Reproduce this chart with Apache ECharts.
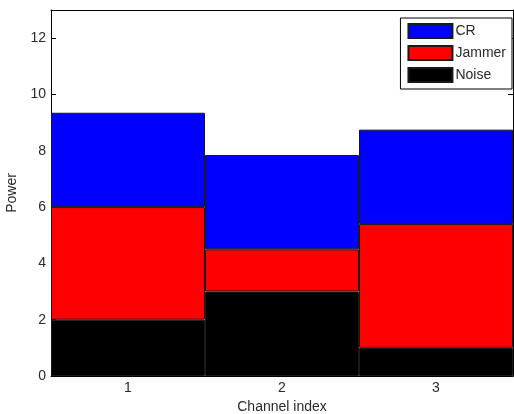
<!DOCTYPE html>
<html><head><meta charset="utf-8">
<script src="https://cdn.jsdelivr.net/npm/echarts@6/dist/echarts.min.js"></script>
<style>html,body{margin:0;padding:0;background:#fff}#c{width:514px;height:414px}</style>
</head><body><div id="c"></div>
<script>
const categories = ['1', '2', '3'];
const noise = [2, 3, 1];
const jammer = [4, 1.5, 4.4];
const cr = [3.35, 3.35, 3.35];
const yTicks = [0, 2, 4, 6, 8, 10, 12];

const font = 'Liberation Sans, Arial, sans-serif';
const txt = '#2a2a2a';
const chart = echarts.init(document.getElementById('c'), null, {renderer: 'canvas'});
const lineStyle = {color: '#000', width: 1};
function bar(name, data, color) {
  return {name, type: 'bar', stack: 'p', data, barWidth: '100%', barGap: '0%',
    itemStyle: {color, borderColor: '#1a1a1a', borderWidth: 1}, xAxisIndex: 0, yAxisIndex: 0};
}
chart.setOption({
  animation: false,
  grid: {left: 51, right: 1, top: 10, bottom: 38, outerBoundsMode: 'none', containLabel: false},
  legend: {
    data: ['CR', 'Jammer', 'Noise'], orient: 'vertical', right: 2, top: 18,
    itemWidth: 44, itemHeight: 14, itemGap: 6, icon: 'rect',
    borderColor: '#000', borderWidth: 1, backgroundColor: '#fff', padding: [5, 6, 6, 7],
    textStyle: {fontFamily: font, fontSize: 14, color: txt, padding: [0, 0, 0, -2]}
  },
  xAxis: [{
    type: 'category', data: categories, boundaryGap: true, position: 'bottom',
    name: 'Channel index', nameLocation: 'middle', nameGap: 22,
    nameTextStyle: {fontFamily: font, fontSize: 14, color: txt},
    axisLine: {onZero: false, lineStyle}, axisTick: {inside: true, alignWithLabel: true, length: 5, lineStyle},
    axisLabel: {fontFamily: font, fontSize: 14, color: txt, margin: 5}, splitLine: {show: false}
  }, {
    type: 'category', data: categories, boundaryGap: true, position: 'top',
    axisLine: {onZero: false, lineStyle}, axisTick: {inside: true, alignWithLabel: true, length: 5, lineStyle},
    axisLabel: {show: false}, splitLine: {show: false}
  }],
  yAxis: [{
    type: 'value', min: 0, max: 13, interval: 2, position: 'left',
    name: 'Power', nameLocation: 'middle', nameGap: 25,
    nameTextStyle: {fontFamily: font, fontSize: 14, color: txt},
    axisLine: {show: true, onZero: false, lineStyle}, axisTick: {show: true, inside: true, length: 5, lineStyle},
    axisLabel: {fontFamily: font, fontSize: 14, color: txt, margin: 5,
      formatter: v => yTicks.includes(v) ? String(v) : ''},
    splitLine: {show: false}
  }, {
    type: 'value', min: 0, max: 13, interval: 2, position: 'right',
    axisLine: {show: true, onZero: false, lineStyle}, axisTick: {show: true, inside: true, length: 5, lineStyle},
    axisLabel: {show: false}, splitLine: {show: false}
  }],
  series: [
    bar('Noise', noise, '#000000'),
    bar('Jammer', jammer, '#ff0000'),
    bar('CR', cr, '#0000ff')
  ]
});
</script></body></html>
